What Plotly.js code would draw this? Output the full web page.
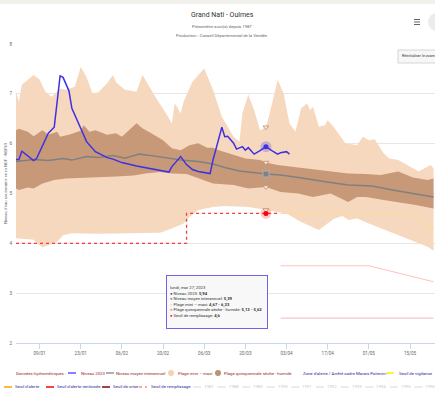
<!DOCTYPE html>
<html><head><meta charset="utf-8">
<script src="https://cdn.plot.ly/plotly-3.0.1.min.js"></script>
<style>html,body{margin:0;padding:0;background:#fff}#chart{width:435px;height:393px}</style>
</head><body><div id="chart"></div>
<script>
// ---------- DATA ----------
const niveau2023Dates = ['2023-01-01','2023-01-02','2023-01-03','2023-01-07','2023-01-08','2023-01-10','2023-01-12','2023-01-14','2023-01-16','2023-01-17','2023-01-19','2023-01-20','2023-01-23','2023-01-25','2023-01-28','2023-02-01','2023-02-03','2023-02-06','2023-02-11','2023-02-16','2023-02-22','2023-02-23','2023-02-26','2023-02-28','2023-03-02','2023-03-04','2023-03-08','2023-03-09','2023-03-12','2023-03-13','2023-03-14','2023-03-16','2023-03-17','2023-03-19','2023-03-20','2023-03-21','2023-03-23','2023-03-25','2023-03-27','2023-03-29','2023-03-31','2023-04-01','2023-04-03','2023-04-04'];
const niveau2023Values = [5.68,5.68,5.85,5.66,5.70,5.95,6.21,6.33,7.36,7.33,7.06,6.71,6.31,6.04,5.84,5.72,5.69,5.62,5.55,5.50,5.43,5.54,5.74,5.58,5.48,5.44,5.40,5.67,6.33,6.14,6.15,6.01,5.89,5.94,5.87,5.92,5.79,5.86,5.94,5.86,5.79,5.82,5.84,5.79];

const moyenDates = ['2023-01-01','2023-01-07','2023-01-12','2023-01-17','2023-01-20','2023-01-25','2023-01-29','2023-02-03','2023-02-07','2023-02-12','2023-02-15','2023-02-21','2023-02-26','2023-03-04','2023-03-09','2023-03-13','2023-03-18','2023-03-27','2023-04-01','2023-04-07','2023-04-12','2023-04-18','2023-04-24','2023-05-02','2023-05-11','2023-05-23'];
const moyenValues = [5.64,5.68,5.66,5.70,5.67,5.74,5.72,5.76,5.71,5.79,5.77,5.72,5.67,5.64,5.59,5.52,5.45,5.39,5.37,5.32,5.27,5.22,5.17,5.15,5.05,4.93];

const quinqHumideDates = ['2023-01-01','2023-01-02','2023-01-05','2023-01-07','2023-01-10','2023-01-12','2023-01-15','2023-01-16','2023-01-19','2023-01-23','2023-01-24','2023-01-26','2023-01-28','2023-02-01','2023-02-04','2023-02-06','2023-02-11','2023-02-13','2023-02-16','2023-02-20','2023-02-23','2023-02-26','2023-03-01','2023-03-04','2023-03-07','2023-03-09','2023-03-11','2023-03-16','2023-03-20','2023-03-25','2023-03-27','2023-03-31','2023-04-07','2023-04-14','2023-04-19','2023-04-24','2023-04-30','2023-05-05','2023-05-11','2023-05-16','2023-05-21','2023-05-23'];
const quinqHumideValues = [6.27,6.30,6.24,6.15,6.27,6.18,6.24,6.14,6.18,6.26,6.37,6.24,6.27,6.18,6.21,6.14,6.41,6.31,6.21,6.07,5.91,5.87,5.97,6.01,5.92,5.92,5.87,5.77,5.70,5.67,5.62,5.57,5.52,5.48,5.44,5.40,5.39,5.37,5.44,5.32,5.27,5.30];

const quinqSecheDates = ['2023-01-01','2023-01-02','2023-01-05','2023-01-07','2023-01-10','2023-01-14','2023-01-18','2023-01-24','2023-01-29','2023-02-04','2023-02-10','2023-02-14','2023-02-19','2023-02-23','2023-02-28','2023-03-04','2023-03-09','2023-03-16','2023-03-21','2023-03-27','2023-04-01','2023-04-07','2023-04-12','2023-04-18','2023-04-24','2023-04-27','2023-04-30','2023-05-06','2023-05-11','2023-05-17','2023-05-23'];
const quinqSecheValues = [5.10,5.07,5.12,5.10,5.20,5.27,5.30,5.31,5.33,5.34,5.36,5.40,5.43,5.40,5.39,5.30,5.20,5.17,5.10,5.13,5.03,5.00,4.93,5.00,4.83,4.93,4.93,4.87,4.83,4.77,4.70];

const maxiDates = ['2023-01-01','2023-01-02','2023-01-03','2023-01-07','2023-01-09','2023-01-11','2023-01-13','2023-01-14','2023-01-16','2023-01-18','2023-01-21','2023-01-23','2023-01-25','2023-01-27','2023-01-29','2023-02-01','2023-02-03','2023-02-04','2023-02-07','2023-02-11','2023-02-13','2023-02-15','2023-02-18','2023-02-21','2023-02-23','2023-02-24','2023-02-26','2023-02-27','2023-03-02','2023-03-03','2023-03-06','2023-03-09','2023-03-12','2023-03-16','2023-03-18','2023-03-19','2023-03-21','2023-03-23','2023-03-25','2023-03-27','2023-03-28','2023-03-31','2023-04-02','2023-04-04','2023-04-06','2023-04-08','2023-04-10','2023-04-11','2023-04-12','2023-04-14','2023-04-16','2023-04-17','2023-04-19','2023-04-23','2023-04-27','2023-04-29','2023-05-01','2023-05-03','2023-05-06','2023-05-08','2023-05-11','2023-05-18','2023-05-22','2023-05-23'];
const maxiValues = [7.04,6.84,7.18,7.38,7.29,7.04,6.94,6.98,7.10,7.08,7.14,7.54,7.34,7.01,7.03,7.21,7.38,7.23,7.08,7.04,7.38,7.18,6.88,6.61,6.41,6.81,6.61,6.84,7.24,7.31,7.51,7.08,6.54,6.14,6.04,6.61,6.98,6.67,6.27,6.33,6.54,7.28,7.01,6.41,6.24,6.71,6.81,6.67,6.74,6.34,6.37,6.47,6.34,6.01,5.97,6.14,6.07,6.09,5.81,5.70,5.67,5.44,5.57,5.50];

const miniDates = ['2023-01-01','2023-01-07','2023-01-09','2023-01-10','2023-01-12','2023-01-15','2023-01-17','2023-01-20','2023-01-29','2023-02-10','2023-02-19','2023-02-23','2023-02-27','2023-03-01','2023-03-03','2023-03-04','2023-03-09','2023-03-13','2023-03-21','2023-03-27','2023-04-03','2023-04-08','2023-04-14','2023-04-19','2023-04-22','2023-04-24','2023-04-27','2023-05-01','2023-05-06','2023-05-11','2023-05-16','2023-05-21','2023-05-23'];
const miniValues = [4.10,4.07,3.96,3.92,3.96,4.03,4.16,4.20,4.19,4.20,4.21,4.30,4.40,4.53,4.63,4.67,4.73,4.75,4.73,4.67,4.60,4.43,4.27,4.49,4.55,4.47,4.50,4.40,4.28,4.17,4.05,3.93,3.85];

const seuilRemplissageDates = ['2023-01-01','2023-02-28','2023-03-31'];
const seuilRemplissageValues = [4.0,4.6,4.6];
const seuilAlerteDates = ['2023-04-01','2023-05-15','2023-05-23'];
const seuilAlerteValues = [4.60,4.60,4.30];
const seuilAlerteRenfDates = ['2023-04-01','2023-05-01','2023-05-23'];
const seuilAlerteRenfValues = [3.55,3.55,3.23];
const seuilCriseDates = ['2023-04-01','2023-05-23'];
const seuilCriseValues = [2.50,2.50];

const hoverDate = '2023-03-27';
const hoverDateLabel = 'lundi, mar 27, 2023';
const hoverRemplissage = 4.6;
const yearLabels = ['1987','1988','1989','1990','1991','1992','1993','1994','1995','1996'];

// ---------- STYLE ----------
const FONT = '"Roboto", "Liberation Sans", sans-serif';
const C_BLUE = 'rgb(62,48,228)';
const C_GRAY = 'rgb(128,128,128)';
const C_PEACH = 'rgb(246,216,190)';
const C_BROWN = 'rgb(199,153,120)';
const C_RED = 'rgb(255,0,0)';
const C_MAROON = 'rgb(150,30,30)';
const C_NAVY = 'rgb(30,30,150)';
const LS = 4.3; // legend font size

const L = 16, W = 419, B = 343, H = 299;
const px = x => (x - L) / W;
const py = y => (B - y) / H;
const at = (d, v) => v[d.indexOf(hoverDate)];
const fr = v => v.toString().replace('.', ',');

const traces = [
  {x: miniDates, y: miniValues, mode: 'lines', line: {width: 0, color: C_PEACH}, hoverinfo: 'skip', showlegend: false},
  {x: maxiDates, y: maxiValues, mode: 'lines', line: {width: 0, color: C_PEACH}, fill: 'tonexty', fillcolor: C_PEACH, hoverinfo: 'skip', showlegend: false},
  {x: quinqSecheDates, y: quinqSecheValues, mode: 'lines', line: {width: 0, color: C_BROWN}, hoverinfo: 'skip', showlegend: false},
  {x: quinqHumideDates, y: quinqHumideValues, mode: 'lines', line: {width: 0, color: C_BROWN}, fill: 'tonexty', fillcolor: C_BROWN, hoverinfo: 'skip', showlegend: false},
  {x: moyenDates, y: moyenValues, mode: 'lines', line: {width: 1.5, color: C_GRAY}, showlegend: false},
  {x: seuilRemplissageDates, y: seuilRemplissageValues, mode: 'lines', line: {width: 1.3, color: 'rgb(240,60,60)', dash: 'dot', shape: 'hv'}, showlegend: false},
  {x: seuilAlerteDates, y: seuilAlerteValues, mode: 'lines', line: {width: 1.2, color: 'rgb(250,218,160)'}, showlegend: false},
  {x: seuilAlerteRenfDates, y: seuilAlerteRenfValues, mode: 'lines', line: {width: 1.2, color: 'rgb(255,195,195)'}, showlegend: false},
  {x: seuilCriseDates, y: seuilCriseValues, mode: 'lines', line: {width: 1.2, color: 'rgb(240,200,205)'}, showlegend: false},
  {x: niveau2023Dates, y: niveau2023Values, mode: 'lines', line: {width: 1.5, color: C_BLUE}, showlegend: false},
  // hover highlight markers
  {x: [hoverDate, hoverDate], y: [at(niveau2023Dates, niveau2023Values), hoverRemplissage],
   mode: 'markers', marker: {size: 11, color: ['rgba(62,48,228,0.25)', 'rgba(255,0,0,0.2)']}, showlegend: false, hoverinfo: 'skip'},
  {x: [hoverDate, hoverDate, hoverDate, hoverDate], y: [at(maxiDates, maxiValues), at(quinqHumideDates, quinqHumideValues), at(quinqSecheDates, quinqSecheValues), at(miniDates, miniValues)],
   mode: 'markers', marker: {symbol: 'triangle-down', size: 5, color: 'rgb(250,235,220)', line: {width: 0.8, color: 'rgb(190,140,110)'}}, showlegend: false, hoverinfo: 'skip'},
  {x: [hoverDate], y: [at(moyenDates, moyenValues)], mode: 'markers', marker: {symbol: 'square', size: 6, color: C_GRAY, line: {width: 2, color: 'rgba(180,180,180,0.5)'}}, showlegend: false, hoverinfo: 'skip'},
  {x: [hoverDate, hoverDate], y: [at(niveau2023Dates, niveau2023Values), hoverRemplissage], mode: 'markers', marker: {size: 5, color: [C_BLUE, C_RED]}, showlegend: false, hoverinfo: 'skip'}
];

// ---------- ANNOTATIONS / LEGEND ----------
const ann = [];
const shapes = [];
const txt = (x, y, text, size, color, anchor, extra) => ann.push(Object.assign({xref: 'paper', yref: 'paper', x: px(x), y: py(y), text: text, showarrow: false, xanchor: anchor || 'left', yanchor: 'middle', font: {family: FONT, size: size, color: color}}, extra || {}));

// top strip
shapes.push({type: 'rect', xref: 'paper', yref: 'paper', x0: px(0), x1: px(435), y0: py(0), y1: py(4), fillcolor: 'rgb(242,240,235)', line: {width: 0}, layer: 'below'});
txt(222, 15, 'Grand Nati - Oulmes', 7, '#333', 'center');
txt(222, 26, 'Piézomètre suivi(s) depuis 1987', 4.2, '#666', 'center');
txt(222, 35, 'Producteur : Conseil Départemental de la Vendée', 4.2, '#666', 'center');
// hamburger
[19.5, 22, 24.5].forEach(y => shapes.push({type: 'line', xref: 'paper', yref: 'paper', x0: px(414), x1: px(420), y0: py(y), y1: py(y), line: {color: '#666', width: 1}}));
shapes.push({type: 'circle', xref: 'paper', yref: 'paper', x0: px(428), x1: px(446), y0: py(13), y1: py(31), fillcolor: 'rgb(235,235,235)', line: {width: 0}});
// reset zoom button
shapes.push({type: 'rect', xref: 'paper', yref: 'paper', x0: px(398), x1: px(440), y0: py(50), y1: py(63), fillcolor: 'rgb(247,247,247)', line: {color: '#ccc', width: 0.8}});
txt(399.5, 56.5, 'Réinitialiser le zoom', 3.7, '#333');
// y axis title
txt(5, 183, 'Niveau d\'eau souterraine en m NGF - NGF69', 4.2, '#666', 'center', {textangle: -90});

// tooltip
const tt = hoverDateLabel + '<br>' +
  '<span style="color:' + C_BLUE + '">●</span> Niveau 2023: <b>' + fr(at(niveau2023Dates, niveau2023Values)) + '</b><br>' +
  '<span style="color:' + C_GRAY + '">●</span> Niveau moyen interannuel: <b>' + fr(at(moyenDates, moyenValues)) + '</b><br>' +
  '<span style="color:' + C_PEACH + '">●</span> Plage mini – maxi: <b>' + fr(at(miniDates, miniValues)) + ' - ' + fr(at(maxiDates, maxiValues)) + '</b><br>' +
  '<span style="color:' + C_BROWN + '">●</span> Plage quinquennale sèche - humide: <b>' + fr(at(quinqSecheDates, quinqSecheValues)) + ' - ' + fr(at(quinqHumideDates, quinqHumideValues)) + '</b><br>' +
  '<span style="color:' + C_RED + '">●</span> Seuil de remplissage: <b>' + fr(hoverRemplissage) + '</b>';
ann.push({xref: 'paper', yref: 'paper', x: px(166), y: py(275), xanchor: 'left', yanchor: 'top', text: tt, showarrow: false, align: 'left', valign: 'middle',
  width: 94, height: 46,
  font: {family: FONT, size: 4.2, color: '#333'}, bgcolor: 'rgba(248,248,248,0.95)', bordercolor: 'rgb(110,100,235)', borderwidth: 1, borderpad: 3});

// legend
const R1 = 373, R2 = 387;
const lineSym = (x, y, color, dash, w) => shapes.push({type: 'line', xref: 'paper', yref: 'paper', x0: px(x), x1: px(x + 8), y0: py(y), y1: py(y), line: {color: color, width: w || 1.5, dash: dash || 'solid'}});
const dotSym = (x, y, color) => shapes.push({type: 'circle', xref: 'paper', yref: 'paper', x0: px(x - 3), x1: px(x + 3), y0: py(y - 3), y1: py(y + 3), fillcolor: color, line: {width: 0}});

txt(14, R1, 'Données hydrométriques :', LS, C_MAROON);
lineSym(68, R1, 'rgb(90,90,255)'); txt(79, R1, 'Niveau 2023', LS, C_MAROON);
lineSym(106, R1, 'rgb(150,150,150)'); txt(114, R1, 'Niveau moyen interannuel', LS, C_MAROON);
dotSym(171, R1, 'rgb(246,210,180)'); txt(176, R1, 'Plage mini – maxi', LS, C_MAROON);
dotSym(218, R1, 'rgb(190,145,115)'); txt(222, R1, 'Plage quinquennale sèche - humide', LS, C_MAROON);
txt(301, R1, 'Zone d\'alerte / Arrêté cadre Marais Poitevin :', LS, C_NAVY);
lineSym(386, R1, 'rgb(255,240,0)'); txt(397, R1, 'Seuil de vigilance', LS, C_NAVY);
lineSym(4, R2, 'rgb(255,165,0)'); txt(13, R2, 'Seuil d\'alerte', LS, C_NAVY);
lineSym(46, R2, 'rgb(255,0,0)'); txt(55, R2, 'Seuil d\'alerte renforcée', LS, C_NAVY);
lineSym(102, R2, 'rgb(130,0,20)'); txt(111, R2, 'Seuil de crise', LS, C_NAVY);
lineSym(139, R2, 'rgb(255,80,80)', 'dot', 1.2); txt(149, R2, 'Seuil de remplissage', LS, C_NAVY);
yearLabels.forEach((yl, i) => {
  const x = 193 + i * 24.6;
  lineSym(x, R2, 'rgb(215,215,215)', 'solid', 1);
  txt(x + 9, R2, yl, LS, 'rgb(200,200,200)');
});

const layout = {
  width: 435, height: 393,
  margin: {l: L, r: 0, t: 44, b: 50},
  paper_bgcolor: '#fff', plot_bgcolor: '#fff',
  font: {family: FONT, color: '#666'},
  showlegend: false,
  xaxis: {type: 'date', range: ['2023-01-01', '2023-05-23 12:00'], tickformat: '%d/%m', dtick: 14 * 86400000, tick0: '2023-01-09',
    ticks: 'outside', ticklen: 5, tickcolor: '#ccd6eb', showline: true, linecolor: '#ccd6eb', linewidth: 1, showgrid: false, zeroline: false,
    tickfont: {family: FONT, size: 4.6, color: '#666'}, fixedrange: true},
  yaxis: {range: [2, 8], dtick: 1, tick0: 2, showgrid: true, gridcolor: '#e6e6e6', gridwidth: 1, zeroline: false, showline: false,
    ticks: '', ticklabelstandoff: 3, tickfont: {family: FONT, size: 4.6, color: '#666'}, fixedrange: true},
  annotations: ann,
  shapes: shapes
};

Plotly.newPlot('chart', traces, layout, {displayModeBar: false, staticPlot: true});
</script>
</body></html>
